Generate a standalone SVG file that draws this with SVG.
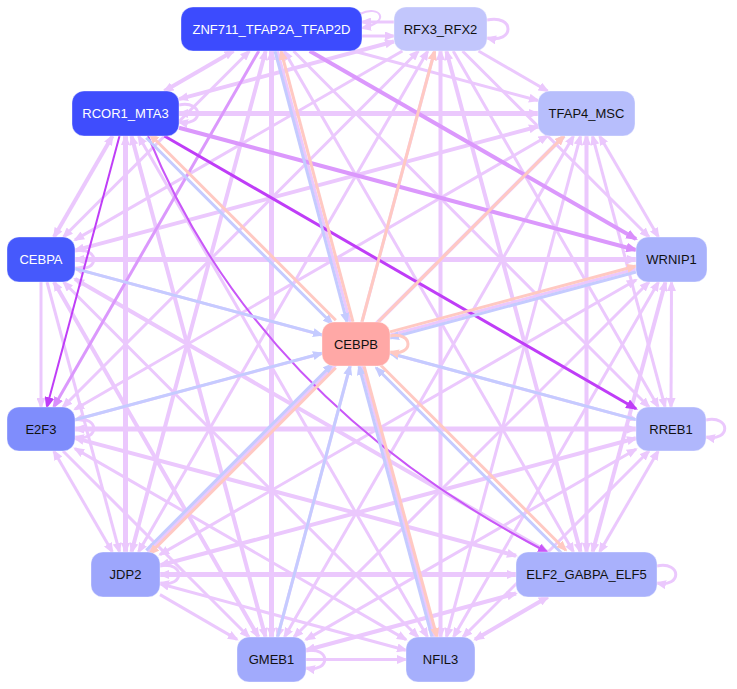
<svg xmlns="http://www.w3.org/2000/svg" width="737" height="689" viewBox="0 0 737 689">
<style>
.ed line,.ed path{fill:none}
.lp{stroke:#EBC8FD}.mp{stroke:#DB98FC}.dp{stroke:#BF3DF7}.rp{stroke:#C957F8}.bl{stroke:#C5CBFF}.sa{stroke:#FFC9C2}
.w2{stroke-width:2}.w3{stroke-width:3}.w4{stroke-width:4}.w5{stroke-width:5}
.lp.e,.lp.b{marker-end:url(#alp)}.lp.b{marker-start:url(#alp)}
.mp.e{marker-end:url(#amp)}.dp.e{marker-end:url(#adp)}.rp.e{marker-end:url(#arp)}
.bl.e{marker-end:url(#abl)}.sa.e{marker-end:url(#asa)}
.nd rect{stroke:#ffffff;stroke-opacity:0.35;stroke-width:1}
.nd text{font-family:"Liberation Sans",Arial,sans-serif;font-size:13px;text-anchor:middle}
.dk text{fill:#ffffff}.lt text{fill:#111111}
</style>
<defs>
<marker id="alp" viewBox="0 0 11 9" markerWidth="11" markerHeight="9" refX="9" refY="4.5" orient="auto-start-reverse" markerUnits="userSpaceOnUse"><path d="M0,0 L11,4.5 L0,9 z" fill="#EBC8FD"/></marker>
<marker id="amp" viewBox="0 0 11 9" markerWidth="12" markerHeight="10" refX="9" refY="4.5" orient="auto-start-reverse" markerUnits="userSpaceOnUse"><path d="M0,0 L11,4.5 L0,9 z" fill="#D98EFB"/></marker>
<marker id="adp" viewBox="0 0 11 9" markerWidth="12" markerHeight="10" refX="9" refY="4.5" orient="auto-start-reverse" markerUnits="userSpaceOnUse"><path d="M0,0 L11,4.5 L0,9 z" fill="#BF3DF7"/></marker>
<marker id="arp" viewBox="0 0 11 9" markerWidth="11" markerHeight="9" refX="9" refY="4.5" orient="auto-start-reverse" markerUnits="userSpaceOnUse"><path d="M0,0 L11,4.5 L0,9 z" fill="#C957F8"/></marker>
<marker id="abl" viewBox="0 0 11 9" markerWidth="11" markerHeight="9" refX="9" refY="4.5" orient="auto-start-reverse" markerUnits="userSpaceOnUse"><path d="M0,0 L11,4.5 L0,9 z" fill="#C5CBFF"/></marker>
<marker id="asa" viewBox="0 0 11 9" markerWidth="11" markerHeight="9" refX="9" refY="4.5" orient="auto-start-reverse" markerUnits="userSpaceOnUse"><path d="M0,0 L11,4.5 L0,9 z" fill="#FFC9C2"/></marker>
</defs>
<rect width="737" height="689" fill="#ffffff"/>
<g id="connectors" class="ed">
<line x1="362" y1="36" x2="394" y2="36" class="lp e w3"/>
<line x1="394" y1="22" x2="362" y2="22" class="lp e w3"/>
<path d="M360,14 C380,4 392,22 362,28" class="lp e w2"/>
<line x1="233.5" y1="51" x2="164.4" y2="91" class="lp b w4"/>
<line x1="353.5" y1="51" x2="538" y2="100.5" class="lp e w3"/>
<line x1="249.5" y1="51" x2="63.5" y2="237" class="lp b w3"/>
<line x1="293.5" y1="51" x2="649" y2="407" class="lp e w3"/>
<line x1="265.6" y1="51" x2="131.5" y2="552" class="lp b w4"/>
<line x1="284.2" y1="51" x2="573.5" y2="552" class="lp b w3"/>
<line x1="271.5" y1="51" x2="271.5" y2="637" class="lp b w5"/>
<line x1="277.4" y1="51" x2="434.5" y2="637" class="lp e w3"/>
<line x1="394" y1="41.5" x2="179" y2="99.1" class="lp b w4"/>
<line x1="478.5" y1="51" x2="547.6" y2="91" class="lp e w3"/>
<line x1="402.4" y1="51" x2="75" y2="239.9" class="lp e w3"/>
<line x1="462.5" y1="51" x2="649" y2="237" class="lp e w3"/>
<line x1="418.5" y1="51" x2="63" y2="407" class="lp b w3"/>
<line x1="453.2" y1="51" x2="658.3" y2="407" class="lp e w3"/>
<line x1="427.8" y1="51" x2="138.5" y2="552" class="lp b w3"/>
<line x1="446.4" y1="51" x2="580.5" y2="552" class="lp b w4"/>
<line x1="434.6" y1="51" x2="277.5" y2="637" class="lp b w3"/>
<line x1="440.5" y1="51" x2="440.5" y2="637" class="lp b w4"/>
<path d="M487,20 C515,14 515,44 487,38" class="lp e w3"/>
<line x1="179" y1="113.5" x2="538" y2="113.5" class="lp b w5"/>
<line x1="112.5" y1="136" x2="54" y2="237" class="lp b w4"/>
<line x1="125.5" y1="136" x2="125.5" y2="552" class="lp b w5"/>
<line x1="131.5" y1="136" x2="265.5" y2="637" class="lp b w4"/>
<line x1="138.5" y1="136" x2="427.5" y2="637" class="lp b w3"/>
<path d="M179,105 C204,100 204,127 179,122" class="lp e w3"/>
<line x1="538" y1="126.5" x2="75" y2="250.4" class="lp b w4"/>
<line x1="599.6" y1="136" x2="658.4" y2="237" class="lp b w3"/>
<line x1="547.6" y1="136" x2="75" y2="409.3" class="lp b w3"/>
<line x1="592.5" y1="136" x2="665.1" y2="407" class="lp b w3"/>
<line x1="564" y1="136" x2="148" y2="552" class="lp b w4"/>
<line x1="586.5" y1="136" x2="586.5" y2="552" class="lp b w4"/>
<line x1="573.5" y1="136" x2="284.5" y2="637" class="lp b w3"/>
<line x1="580.5" y1="136" x2="446.5" y2="637" class="lp b w3"/>
<line x1="75" y1="259.5" x2="636" y2="259.5" class="lp b w5"/>
<line x1="41" y1="282" x2="41" y2="407" class="lp e w3"/>
<line x1="75" y1="268.6" x2="636" y2="419.6" class="lp b w3"/>
<line x1="47" y1="282" x2="119.5" y2="552" class="lp e w3"/>
<line x1="75" y1="279.1" x2="547.5" y2="552" class="lp b w4"/>
<line x1="54" y1="282" x2="258.5" y2="637" class="lp b w4"/>
<line x1="63.5" y1="282" x2="418" y2="637" class="lp b w3"/>
<path d="M75,251 C100,246 100,273 75,268" class="lp e w3"/>
<line x1="636" y1="269" x2="75" y2="419.9" class="lp b w3"/>
<line x1="671.5" y1="282" x2="671" y2="407" class="lp b w3"/>
<line x1="636" y1="280" x2="160" y2="554.6" class="lp b w3"/>
<line x1="665.4" y1="282" x2="592.6" y2="552" class="lp b w4"/>
<line x1="649" y1="282" x2="294" y2="637" class="lp b w3"/>
<line x1="658.5" y1="282" x2="453.5" y2="637" class="lp b w3"/>
<line x1="75" y1="429" x2="636" y2="429" class="lp b w5"/>
<line x1="53.8" y1="451" x2="112.4" y2="552" class="lp b w3"/>
<line x1="75" y1="438.1" x2="516" y2="555.7" class="lp b w4"/>
<line x1="63" y1="451" x2="249" y2="637" class="lp e w3"/>
<line x1="75" y1="448.6" x2="406" y2="639.6" class="lp b w3"/>
<path d="M75,420 C100,415 100,442 75,437" class="lp e w3"/>
<line x1="636" y1="438.3" x2="160" y2="565.3" class="lp b w4"/>
<line x1="658.2" y1="451" x2="599.6" y2="552" class="lp b w3"/>
<line x1="636" y1="449.2" x2="306" y2="639.6" class="lp b w3"/>
<line x1="649" y1="451" x2="463" y2="637" class="lp b w3"/>
<path d="M706,420 C731,415 731,442 706,437" class="lp e w3"/>
<line x1="160" y1="574.5" x2="516" y2="574.5" class="lp b w5"/>
<line x1="160" y1="594.6" x2="237" y2="639.4" class="lp e w3"/>
<line x1="160" y1="583.8" x2="406" y2="650.2" class="lp b w3"/>
<path d="M160,566 C185,561 185,588 160,583" class="lp e w3"/>
<line x1="516" y1="593.5" x2="306" y2="650.2" class="lp b w4"/>
<line x1="547.8" y1="597" x2="475" y2="639.4" class="lp b w4"/>
<path d="M657,566 C682,561 682,588 657,583" class="lp e w3"/>
<line x1="306" y1="659.5" x2="406" y2="659.5" class="lp e w3"/>
<path d="M306,651 C331,646 331,673 306,668" class="lp e w3"/>
<line x1="309.7" y1="51" x2="636" y2="239" class="mp e w4"/>
<line x1="258.8" y1="51" x2="53.7" y2="407" class="mp e w3"/>
<line x1="179" y1="127.8" x2="636" y2="250" class="mp e w4"/>
<line x1="119.5" y1="136" x2="46.9" y2="407" class="dp e w2"/>
<line x1="164.4" y1="136" x2="636" y2="408.7" class="dp e w3"/>
<path d="M148,136 Q255,400 547,552" class="rp e w2"/>
<line x1="275" y1="51" x2="347" y2="322" class="bl e w3"/>
<line x1="353" y1="322" x2="281" y2="51" class="sa e w3"/>
<line x1="361.9" y1="322" x2="434.6" y2="51" class="sa e w3"/>
<line x1="146.2" y1="137.8" x2="332.2" y2="323.8" class="bl e w3"/>
<line x1="335.8" y1="320.2" x2="149.8" y2="134.2" class="sa e w3"/>
<line x1="378" y1="322" x2="564" y2="136" class="sa e w3"/>
<line x1="75" y1="268.6" x2="322" y2="334.9" class="bl e w3"/>
<line x1="636" y1="272" x2="390" y2="338" class="bl e w3"/>
<line x1="390" y1="331.9" x2="636" y2="266" class="sa e w3"/>
<line x1="75" y1="419.8" x2="322" y2="353.2" class="bl e w3"/>
<line x1="636" y1="419.6" x2="390" y2="353.2" class="bl e w3"/>
<line x1="146.2" y1="550.2" x2="332.2" y2="364.2" class="bl e w3"/>
<line x1="335.8" y1="367.8" x2="149.8" y2="553.8" class="sa e w3"/>
<line x1="562.2" y1="553.8" x2="376.2" y2="367.8" class="bl e w3"/>
<line x1="379.8" y1="364.2" x2="565.8" y2="550.2" class="sa e w3"/>
<line x1="277.5" y1="637" x2="350.1" y2="366" class="bl e w3"/>
<line x1="432" y1="637" x2="359" y2="366" class="bl e w3"/>
<line x1="364" y1="366" x2="437" y2="637" class="sa e w3"/>
<path d="M390,336 C414,331 414,357 390,352" class="sa e w3"/>
</g>
<g id="n-ZNF711_TFAP2A_TFAP2D" class="nd dk"><rect x="181" y="7" width="181" height="44" rx="12" fill="#3C4BFE"/><text x="271.5" y="33.5">ZNF711_TFAP2A_TFAP2D</text></g>
<g id="n-RFX3_RFX2" class="nd lt"><rect x="394" y="7" width="93" height="44" rx="12" fill="#C2C6FC"/><text x="440.5" y="33.5">RFX3_RFX2</text></g>
<g id="n-RCOR1_MTA3" class="nd dk"><rect x="72" y="91" width="107" height="45" rx="12" fill="#3F4DFD"/><text x="125.5" y="118">RCOR1_MTA3</text></g>
<g id="n-TFAP4_MSC" class="nd lt"><rect x="538" y="91" width="97" height="45" rx="12" fill="#B7BEFC"/><text x="586.5" y="118">TFAP4_MSC</text></g>
<g id="n-CEBPA" class="nd dk"><rect x="7" y="237" width="68" height="45" rx="12" fill="#4659FC"/><text x="41" y="264">CEBPA</text></g>
<g id="n-WRNIP1" class="nd lt"><rect x="636" y="237" width="71" height="45" rx="12" fill="#A9B2FC"/><text x="671.5" y="264">WRNIP1</text></g>
<g id="n-CEBPB" class="nd lt"><rect x="322" y="322" width="68" height="44" rx="12" fill="#FFA8A6"/><text x="356" y="348.5">CEBPB</text></g>
<g id="n-E2F3" class="nd lt"><rect x="7" y="407" width="68" height="44" rx="12" fill="#7F8DFC"/><text x="41" y="433.5">E2F3</text></g>
<g id="n-RREB1" class="nd lt"><rect x="636" y="407" width="70" height="44" rx="12" fill="#B0B7FC"/><text x="671" y="433.5">RREB1</text></g>
<g id="n-JDP2" class="nd lt"><rect x="91" y="552" width="69" height="45" rx="12" fill="#9DA6FC"/><text x="125.5" y="579">JDP2</text></g>
<g id="n-ELF2_GABPA_ELF5" class="nd lt"><rect x="516" y="552" width="141" height="45" rx="12" fill="#A9B1FC"/><text x="586.5" y="579">ELF2_GABPA_ELF5</text></g>
<g id="n-GMEB1" class="nd lt"><rect x="237" y="637" width="69" height="45" rx="12" fill="#A1AAFC"/><text x="271.5" y="664">GMEB1</text></g>
<g id="n-NFIL3" class="nd lt"><rect x="406" y="637" width="69" height="45" rx="12" fill="#A6AFFC"/><text x="440.5" y="664">NFIL3</text></g>
</svg>
